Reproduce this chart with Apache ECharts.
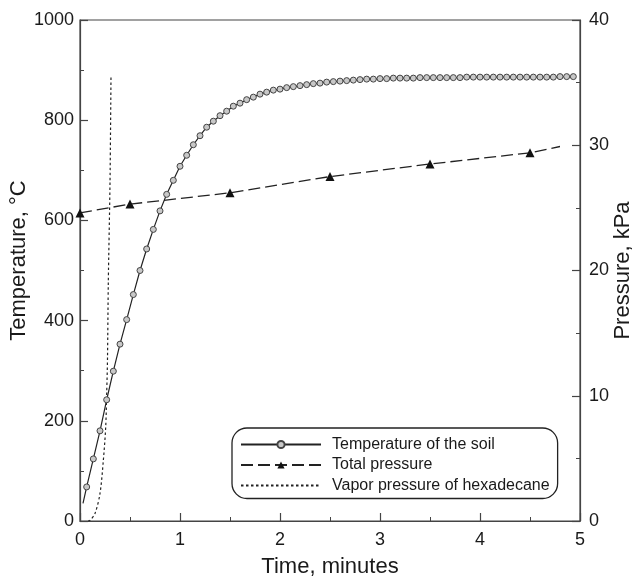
<!DOCTYPE html>
<html><head><meta charset="utf-8">
<script src="https://cdn.jsdelivr.net/npm/echarts@6/dist/echarts.min.js"></script>
<style>html,body{margin:0;padding:0;background:#fff}#c{width:634px;height:576px}</style>
</head><body><div id="c"></div>
<script>
// Temperature of the soil: measured every 4 s (1/15 min)
const tempStart = [0.03, 35];
const tempValues = [68,124,180,242,299,353,402,452,500,543,582,619,652,680,708,730,751,769,786,798,
  809,818,828,834,841,846,852,856,860,862,865,867,869,871,873,874,876,877,878,879,
  880,881,882,882,883,883,884,884,884,884,885,885,885,885,885,885,885,886,886,886,
  886,886,886,886,886,886,886,886,886,886,886,887,887,887];
const tempStep = 1/15;
// Total pressure (kPa)
const pressTimes = [0, 0.5, 1.5, 2.5, 3.5, 4.5];
const pressValues = [24.6, 25.3, 26.2, 27.5, 28.5, 29.4];
const pressEnd = [4.8, 29.9];
// Vapor pressure of hexadecane (kPa)
const vaporTimes = [0.08, 0.1, 0.15, 0.2, 0.233, 0.257, 0.267, 0.275, 0.283, 0.3, 0.31];
const vaporValues = [0, 0.05, 0.6, 2.2, 4.8, 7.5, 10.2, 13, 19, 27, 35.6];
const seriesNames = ['Temperature of the soil', 'Total pressure', 'Vapor pressure of hexadecane'];

const tempData = [{value: tempStart, symbol: 'none'}].concat(tempValues.map((v, i) => [(i + 1) * tempStep, v]));
const pressData = pressTimes.map((t, i) => [t, pressValues[i]]).concat([{value: pressEnd, symbol: 'none'}]);
const vaporData = vaporTimes.map((t, i) => [t, vaporValues[i]]);

const FONT = 'Liberation Sans';
const axisCol = '#444';
const txt = '#1a1a1a';
function axisCommon(extra) {
  return Object.assign({
    type: 'value',
    axisLine: {show: true, lineStyle: {color: axisCol, width: 1.2}},
    axisTick: {show: true, inside: true, length: 8, lineStyle: {color: axisCol, width: 1.2}},
    minorTick: {show: true, splitNumber: 2, length: 4, lineStyle: {color: axisCol, width: 1}},
    splitLine: {show: false},
    nameLocation: 'middle',
    nameMoveOverlap: false,
    nameTextStyle: {color: txt, fontFamily: FONT, fontSize: 22}
  }, extra);
}
function lbl(margin) {
  return {color: txt, fontFamily: FONT, fontSize: 18, margin: margin, formatter: v => String(v)};
}
const chart = echarts.init(document.getElementById('c'));
chart.setOption({
  animation: false,
  backgroundColor: '#fff',
  grid: {left: 80, right: 54, top: 20, bottom: 55, containLabel: false, outerBoundsMode: 'none',
    show: true, borderColor: axisCol, borderWidth: 1.2},
  xAxis: axisCommon({min: 0, max: 5, interval: 1, name: 'Time, minutes', nameGap: 35, axisLabel: lbl(10)}),
  yAxis: [
    axisCommon({min: 0, max: 1000, interval: 200, name: 'Temperature, °C', nameGap: 50, axisLabel: lbl(6),
      nameTextStyle: {color: txt, fontFamily: FONT, fontSize: 22, padding: [0, 0, 0, 20]}}),
    axisCommon({min: 0, max: 40, interval: 10, name: 'Pressure, kPa', position: 'right', nameGap: 32, axisLabel: lbl(9)})
  ],
  legend: {
    orient: 'vertical', left: 232, top: 428,
    data: [
      {name: seriesNames[0]},
      {name: seriesNames[1]},
      {name: seriesNames[2], itemStyle: {opacity: 0}}
    ],
    itemWidth: 80, itemHeight: 9, itemGap: 4.5,
    padding: [8.5, 8, 5, 8],
    borderColor: '#222', borderWidth: 1.3, borderRadius: 15,
    textStyle: {color: txt, fontFamily: FONT, fontSize: 16, padding: [0, 0, 0, 6]}
  },
  series: [
    {name: seriesNames[0], type: 'line', yAxisIndex: 0, data: tempData,
      symbol: 'circle', symbolSize: 6,
      itemStyle: {color: '#c8c8c8', borderColor: '#444', borderWidth: 1},
      lineStyle: {color: '#222', width: 1.2}},
    {name: seriesNames[1], type: 'line', yAxisIndex: 1, data: pressData,
      symbol: 'triangle', symbolSize: 9,
      itemStyle: {color: '#111', borderColor: '#111', borderWidth: 0},
      lineStyle: {color: '#222', width: 1.3, type: [12, 5]}},
    {name: seriesNames[2], type: 'line', yAxisIndex: 1, data: vaporData,
      symbol: 'none', smooth: 0.3,
      itemStyle: {color: '#222'},
      lineStyle: {color: '#222', width: 1.2, type: [2.5, 2.5]}}
  ]
});
</script></body></html>
